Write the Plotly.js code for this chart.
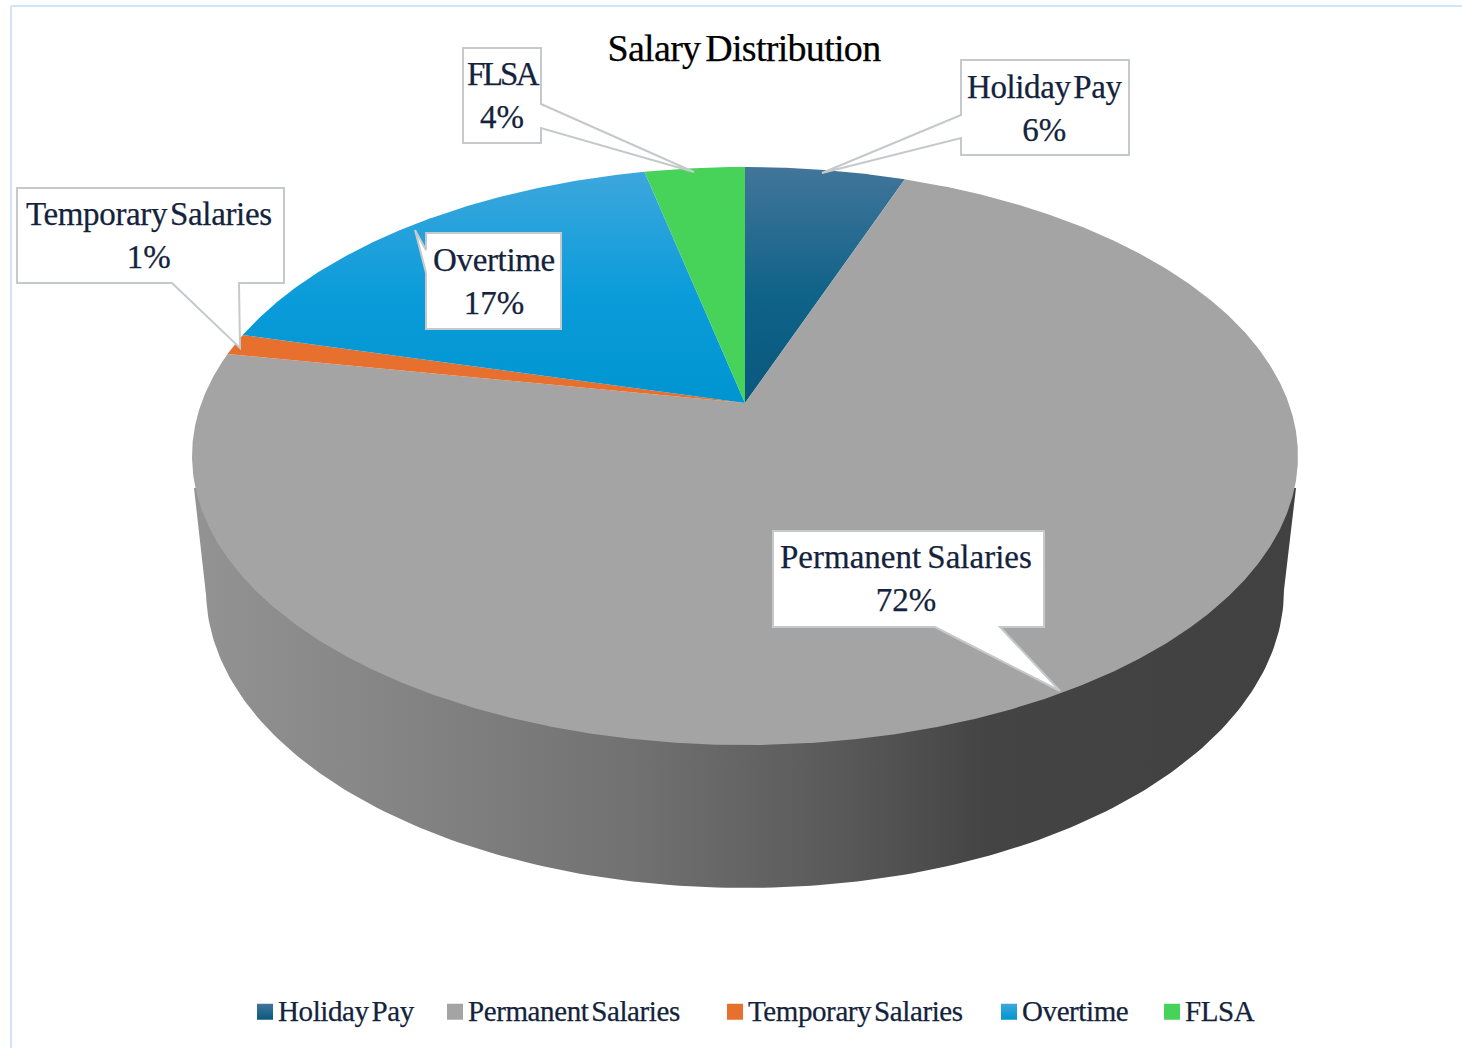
<!DOCTYPE html>
<html>
<head>
<meta charset="utf-8">
<script src="https://cdn.plot.ly/plotly-3.0.1.min.js"></script>
<style>
html,body{margin:0;padding:0;background:#fff}
#chart{width:1462px;height:1048px}
.legendtext,.legend2text,.legend3text,.legend4text,.legend5text{word-spacing:-4px;letter-spacing:-0.4px;transform:translate(-7px,-2px);stroke:#14233c;stroke-width:.25px}
.annotation-text{stroke:#14233c;stroke-width:.25px}
.gtitle{word-spacing:-4px;letter-spacing:-0.7px;stroke:#000;stroke-width:.25px}
</style>
</head>
<body>
<div id="chart"></div>
<script>
// ---- data ----
const categories = ['Holiday Pay', 'Permanent Salaries', 'Temporary Salaries', 'Overtime', 'FLSA'];
const shares = [5.6, 72.3, 1.2, 17.4, 3.5];
const chartTitle = 'Salary Distribution';

// ---- styles ----
const sliceTop = ['#42759a', '#a4a4a4', '#e8702e', '#3fa7dd', '#47d35a'];
const sliceMid = ['#0f6288', '#a4a4a4', '#e8702e', '#0a9cda', '#47d35a'];
const sliceBottom = ['#0a587e', '#a4a4a4', '#e8702e', '#0095d0', '#47d35a'];
const textColor = '#14233c';
const serif = '"Liberation Serif", serif';

// ---- tilted-disc projection (geometry only) ----
const W = 1462, H = 1048;
const apex = {x: 745, y: 403}, spreadX = 543.6, spreadY = 279.3, tilt = 0.1834;
function project(theta) {
  const u = Math.sin(theta), v = Math.cos(theta), w = 1 + tilt * v;
  return [apex.x + spreadX * u / w, apex.y - spreadY * v / w];
}
function sliceOutline(fromShare, toShare) {
  const xs = [apex.x], ys = [apex.y];
  const a0 = fromShare / 100 * 2 * Math.PI, a1 = toShare / 100 * 2 * Math.PI;
  const n = Math.max(4, Math.ceil((a1 - a0) / 0.005));
  for (let i = 0; i <= n; i++) {
    const p = project(a0 + (a1 - a0) * i / n);
    xs.push(p[0]); ys.push(p[1]);
  }
  xs.push(apex.x); ys.push(apex.y);
  return {xs, ys};
}
function wallOutline() {
  const cx = 745, cy = 590, rx = 539, ry = 298;
  const xs = [194], ys = [488];
  for (let deg = 180; deg >= 0; deg -= 1) {
    const t = deg * Math.PI / 180;
    xs.push(cx + rx * Math.cos(t)); ys.push(cy + ry * Math.sin(t));
  }
  xs.push(1296, 194); ys.push(488, 488);
  return {xs, ys};
}

const traces = [];
const wall = wallOutline();
traces.push({
  type: 'scatter', mode: 'lines', x: wall.xs, y: wall.ys, fill: 'toself', showlegend: false,
  hoverinfo: 'skip', line: {width: 0, color: 'rgba(0,0,0,0)'},
  fillgradient: {type: 'horizontal', start: 194, stop: 1296, colorscale: [
    [0, '#939393'], [0.2, '#838383'], [0.4, '#717171'], [0.58, '#5a5a5a'], [0.72, '#444444'], [1, '#414141']
  ]}
});

let running = 0;
categories.forEach((name, i) => {
  const o = sliceOutline(running, running + shares[i]);
  running += shares[i];
  const t = {
    type: 'scatter', mode: 'lines', x: o.xs, y: o.ys, fill: 'toself', name: name, showlegend: false,
    hoverinfo: 'name', line: {width: 0, color: 'rgba(0,0,0,0)'}
  };
  if (sliceTop[i] === sliceBottom[i]) t.fillcolor = sliceTop[i];
  else t.fillgradient = {type: 'vertical', start: 167, stop: 403,
    colorscale: [[0, sliceTop[i]], [0.55, sliceMid[i]], [1, sliceBottom[i]]]};
  traces.push(t);
});

// one legend per entry, so that each sits where the reference puts it
const legendLeft = [245, 435, 715, 989, 1152];
const legends = {};
categories.forEach((name, i) => {
  const id = i === 0 ? 'legend' : 'legend' + (i + 1);
  legends[id] = {
    x: legendLeft[i] / W, xanchor: 'left', y: 1 - 1012 / H, yanchor: 'middle',
    itemclick: false, itemdoubleclick: false, bgcolor: 'rgba(0,0,0,0)',
    font: {family: serif, size: 29, color: textColor}
  };
  traces.push({
    type: 'scatter', mode: 'markers', x: [null], y: [null], name: name, showlegend: true, legend: id,
    marker: {symbol: 'square', size: 17, color: sliceTop[i], line: {width: 0},
      gradient: sliceTop[i] === sliceBottom[i] ? undefined : {type: 'vertical', color: sliceBottom[i]}}
  });
});

// ---- callouts: box plus pointer, drawn as one outline ----
const callouts = [
  {i: 0, cx: 1045, cy: 108.5, tight: 'letter-spacing:-0.4px;word-spacing:-5px', path: 'M961,60 L1129,60 L1129,155 L961,155 L961,138 L822,173 L961,115 Z'},
  {i: 1, cx: 906, cy: 578.5, tight: 'word-spacing:-2px', path: 'M773,531 L1044,531 L1044,627 L1000,627 L1060,691 L935,627 L773,627 Z'},
  {i: 2, cx: 149, cy: 235.5, tight: 'letter-spacing:-0.35px;word-spacing:-5px', path: 'M17,188 L284,188 L284,283 L239,283 L240,348 L172,283 L17,283 Z'},
  {i: 3, cx: 494, cy: 281.5, tight: 'letter-spacing:-0.35px', path: 'M426,233 L561,233 L561,329 L426,329 L426,273 L415,230 L426,250 Z'},
  {i: 4, cx: 503, cy: 95.5, tight: 'letter-spacing:-2.7px', path: 'M463,48 L541,48 L541,104 L694,172 L541,128 L541,143 L463,143 Z'}
];
const shapes = callouts.map(c => ({
  type: 'path', xref: 'x', yref: 'y', path: c.path, fillcolor: '#ffffff',
  line: {color: '#c5c9cc', width: 2}, layer: 'above'
}));
shapes.push(
  {type: 'line', xref: 'paper', yref: 'paper', x0: 11 / W, x1: 1, y0: 1 - 6 / H, y1: 1 - 6 / H, line: {color: '#d3e4f8', width: 2}},
  {type: 'line', xref: 'paper', yref: 'paper', x0: 11 / W, x1: 11 / W, y0: 0, y1: 1 - 6 / H, line: {color: '#d3e4f8', width: 2}}
);
const annotations = callouts.map(c => ({
  xref: 'x', yref: 'y', x: c.cx, y: c.cy, xanchor: 'center', yanchor: 'middle', showarrow: false,
  text: '<span style="' + c.tight + '">' + categories[c.i] + '</span><br>' + Math.round(shares[c.i]) + '%',
  font: {family: serif, size: 33, color: textColor}, align: 'center'
}));

const layout = Object.assign({
  width: W, height: H, margin: {l: 0, r: 0, t: 0, b: 0},
  paper_bgcolor: '#ffffff', plot_bgcolor: '#ffffff',
  title: {text: chartTitle, x: 744 / W, xanchor: 'center', y: 1 - 48 / H, yanchor: 'middle',
    font: {family: serif, size: 38, color: '#000000'}},
  xaxis: {range: [0, W], visible: false, fixedrange: true},
  yaxis: {range: [H, 0], visible: false, fixedrange: true},
  showlegend: true,
  shapes, annotations
}, legends);
Plotly.newPlot('chart', traces, layout, {displayModeBar: false, responsive: false});
</script>
</body>
</html>
